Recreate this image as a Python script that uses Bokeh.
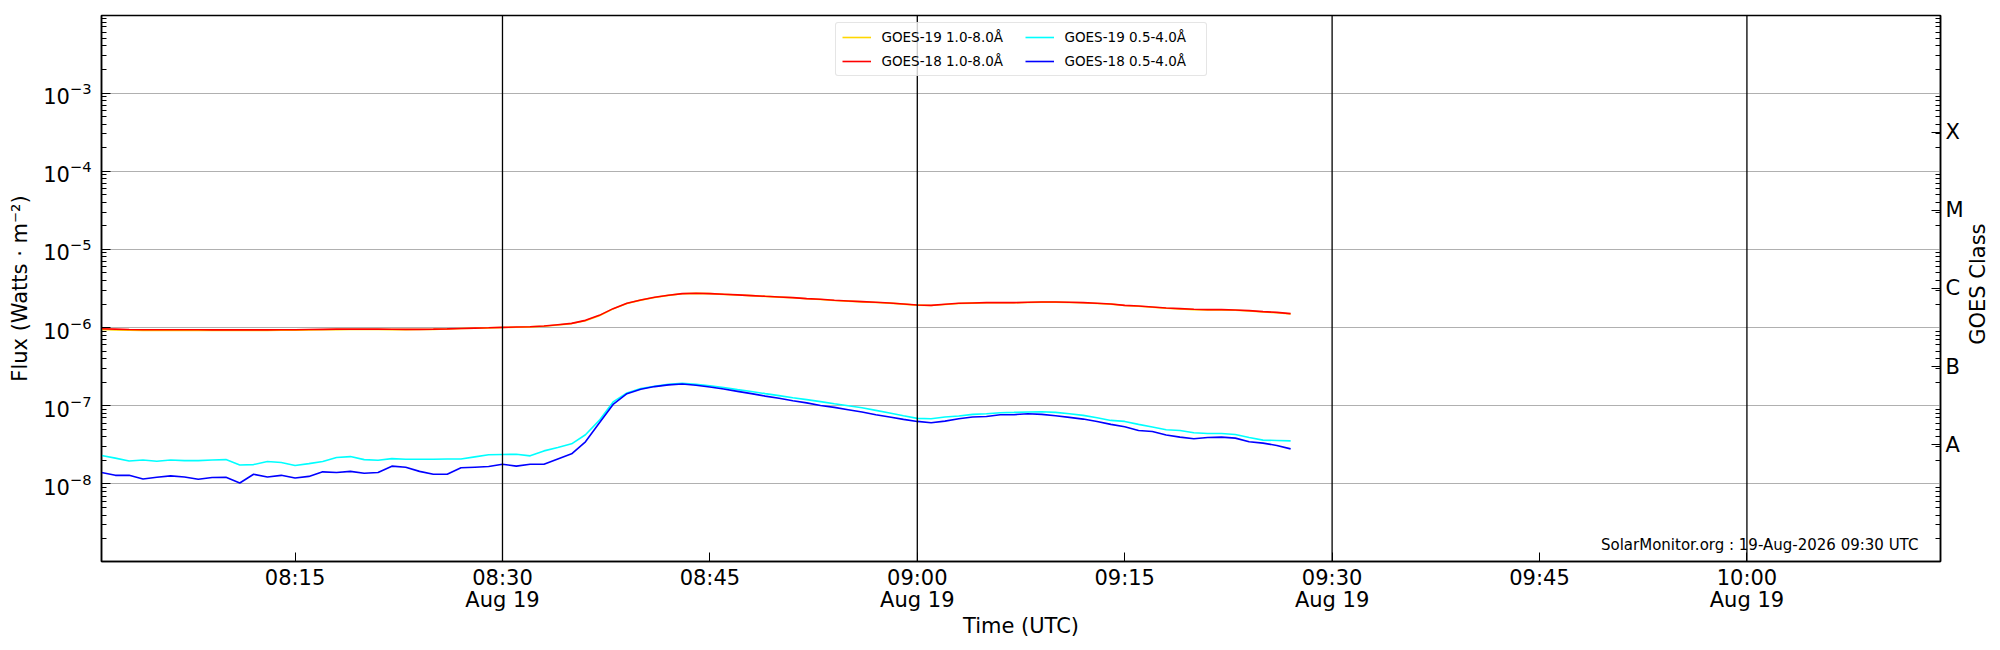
import math
import pandas as pd
from bokeh.plotting import figure
from bokeh.models import (ColumnDataSource, Range1d, LogAxis, FixedTicker, LogTickFormatter,
                          CustomJSTickFormatter, Span, Label, Legend, LegendItem)
from bokeh.embed import file_html
from bokeh.resources import INLINE

# GOES XRS 1-minute samples, 19 Aug 2026, 08:01 - 09:27 UTC
times = pd.date_range("2026-08-19 08:01", "2026-08-19 09:27", freq="1min")

goes19_long = [
    9.45e-7, 9.35e-7, 9.25e-7, 9.22e-7, 9.22e-7, 9.22e-7, 9.22e-7, 9.20e-7, 9.20e-7, 9.20e-7,
    9.20e-7, 9.20e-7, 9.22e-7, 9.25e-7, 9.28e-7, 9.32e-7, 9.38e-7, 9.42e-7, 9.45e-7, 9.45e-7,
    9.45e-7, 9.42e-7, 9.42e-7, 9.45e-7, 9.50e-7, 9.60e-7, 9.72e-7, 9.82e-7, 9.92e-7, 1.003e-6,
    1.012e-6, 1.022e-6, 1.040e-6, 1.080e-6, 1.125e-6, 1.225e-6, 1.420e-6, 1.735e-6, 2.030e-6, 2.245e-6,
    2.430e-6, 2.580e-6, 2.710e-6, 2.740e-6, 2.715e-6, 2.660e-6, 2.610e-6, 2.560e-6, 2.505e-6, 2.455e-6,
    2.405e-6, 2.335e-6, 2.290e-6, 2.225e-6, 2.180e-6, 2.135e-6, 2.095e-6, 2.055e-6, 1.995e-6, 1.935e-6,
    1.915e-6, 1.975e-6, 2.035e-6, 2.055e-6, 2.075e-6, 2.075e-6, 2.075e-6, 2.095e-6, 2.115e-6, 2.115e-6,
    2.095e-6, 2.075e-6, 2.035e-6, 1.995e-6, 1.915e-6, 1.875e-6, 1.820e-6, 1.765e-6, 1.730e-6, 1.695e-6,
    1.680e-6, 1.680e-6, 1.665e-6, 1.630e-6, 1.585e-6, 1.550e-6, 1.490e-6,
]
goes18_long = [
    9.65e-7, 9.55e-7, 9.45e-7, 9.40e-7, 9.40e-7, 9.40e-7, 9.40e-7, 9.38e-7, 9.36e-7, 9.35e-7,
    9.35e-7, 9.35e-7, 9.36e-7, 9.38e-7, 9.40e-7, 9.45e-7, 9.50e-7, 9.55e-7, 9.55e-7, 9.55e-7,
    9.55e-7, 9.52e-7, 9.50e-7, 9.50e-7, 9.55e-7, 9.62e-7, 9.75e-7, 9.85e-7, 9.95e-7, 1.006e-6,
    1.016e-6, 1.026e-6, 1.046e-6, 1.089e-6, 1.132e-6, 1.237e-6, 1.434e-6, 1.747e-6, 2.045e-6, 2.256e-6,
    2.442e-6, 2.590e-6, 2.721e-6, 2.748e-6, 2.721e-6, 2.667e-6, 2.617e-6, 2.566e-6, 2.515e-6, 2.466e-6,
    2.418e-6, 2.348e-6, 2.302e-6, 2.234e-6, 2.191e-6, 2.148e-6, 2.106e-6, 2.065e-6, 2.005e-6, 1.945e-6,
    1.926e-6, 1.984e-6, 2.045e-6, 2.065e-6, 2.085e-6, 2.085e-6, 2.085e-6, 2.106e-6, 2.127e-6, 2.127e-6,
    2.106e-6, 2.085e-6, 2.045e-6, 2.005e-6, 1.926e-6, 1.889e-6, 1.835e-6, 1.781e-6, 1.747e-6, 1.713e-6,
    1.696e-6, 1.696e-6, 1.679e-6, 1.646e-6, 1.598e-6, 1.567e-6, 1.507e-6,
]
goes19_short = [
    2.31e-8, 2.14e-8, 1.97e-8, 2.03e-8, 1.95e-8, 2.03e-8, 1.99e-8, 1.99e-8, 2.03e-8, 2.05e-8,
    1.75e-8, 1.77e-8, 1.94e-8, 1.88e-8, 1.72e-8, 1.82e-8, 1.94e-8, 2.18e-8, 2.24e-8, 2.05e-8,
    2.01e-8, 2.11e-8, 2.07e-8, 2.07e-8, 2.07e-8, 2.09e-8, 2.09e-8, 2.22e-8, 2.36e-8, 2.38e-8,
    2.40e-8, 2.29e-8, 2.65e-8, 2.93e-8, 3.26e-8, 4.26e-8, 6.50e-8, 1.12e-7, 1.46e-7, 1.66e-7,
    1.78e-7, 1.88e-7, 1.94e-7, 1.88e-7, 1.80e-7, 1.71e-7, 1.61e-7, 1.52e-7, 1.43e-7, 1.35e-7,
    1.27e-7, 1.20e-7, 1.13e-7, 1.06e-7, 1.00e-7, 9.46e-8, 8.74e-8, 8.07e-8, 7.46e-8, 6.90e-8,
    6.83e-8, 7.18e-8, 7.39e-8, 7.76e-8, 7.92e-8, 8.15e-8, 8.23e-8, 8.32e-8, 8.40e-8, 8.23e-8,
    7.92e-8, 7.54e-8, 7.03e-8, 6.50e-8, 6.31e-8, 5.78e-8, 5.34e-8, 4.93e-8, 4.84e-8, 4.52e-8,
    4.43e-8, 4.43e-8, 4.30e-8, 3.93e-8, 3.64e-8, 3.60e-8, 3.56e-8,
]
goes18_short = [
    1.40e-8, 1.29e-8, 1.29e-8, 1.16e-8, 1.22e-8, 1.27e-8, 1.23e-8, 1.15e-8, 1.21e-8, 1.22e-8,
    1.03e-8, 1.33e-8, 1.23e-8, 1.29e-8, 1.19e-8, 1.25e-8, 1.43e-8, 1.40e-8, 1.45e-8, 1.37e-8,
    1.40e-8, 1.69e-8, 1.64e-8, 1.45e-8, 1.33e-8, 1.33e-8, 1.61e-8, 1.64e-8, 1.67e-8, 1.79e-8,
    1.69e-8, 1.79e-8, 1.79e-8, 2.09e-8, 2.43e-8, 3.46e-8, 6.01e-8, 1.04e-7, 1.43e-7, 1.63e-7,
    1.76e-7, 1.85e-7, 1.90e-7, 1.83e-7, 1.74e-7, 1.64e-7, 1.53e-7, 1.43e-7, 1.33e-7, 1.25e-7,
    1.16e-7, 1.09e-7, 1.01e-7, 9.55e-8, 8.91e-8, 8.32e-8, 7.69e-8, 7.18e-8, 6.70e-8, 6.31e-8,
    6.07e-8, 6.37e-8, 6.83e-8, 7.18e-8, 7.31e-8, 7.69e-8, 7.69e-8, 7.92e-8, 7.76e-8, 7.46e-8,
    7.10e-8, 6.76e-8, 6.31e-8, 5.78e-8, 5.39e-8, 4.84e-8, 4.70e-8, 4.22e-8, 3.97e-8, 3.78e-8,
    3.93e-8, 3.97e-8, 3.86e-8, 3.46e-8, 3.33e-8, 3.11e-8, 2.81e-8,
]

series_labels = ["GOES-19 1.0-8.0Å", "GOES-18 1.0-8.0Å", "GOES-19 0.5-4.0Å", "GOES-18 0.5-4.0Å"]
series_colors = ["gold", "red", "cyan", "blue"]

day = "2026-08-19"
tick_times = ["08:15", "08:30", "08:45", "09:00", "09:15", "09:30", "09:45", "10:00"]
tick_labels = ["08:15", "08:30\nAug 19", "08:45", "09:00\nAug 19",
               "09:15", "09:30\nAug 19", "09:45", "10:00\nAug 19"]
marker_times = ["08:30", "09:00", "09:30", "10:00"]
decades = [-8, -7, -6, -5, -4, -3]
goes_classes = ["A", "B", "C", "M", "X"]
class_exponents = [-7.5, -6.5, -5.5, -4.5, -3.5]
class_title = "GOES Class"
class_title_foot = 10.0 ** -6.22   # lower end of the upright "GOES Class" title
stamp_text = "SolarMonitor.org : 19-Aug-2026 09:30 UTC"

FONT = "DejaVu Sans"


def ms(hhmm):
    return pd.Timestamp(f"{day} {hhmm}").value / 1e6


source = ColumnDataSource(data=dict(t=times, g19l=goes19_long, g18l=goes18_long,
                                    g19s=goes19_short, g18s=goes18_short))

p = figure(frame_width=1839, frame_height=546, x_axis_type="datetime", y_axis_type="log",
           x_range=Range1d(ms("08:01"), ms("10:14")), y_range=Range1d(1.02e-9, 9.8e-3),
           output_backend="svg", toolbar_location=None,
           min_border_left=101, min_border_right=52, min_border_top=15, min_border_bottom=81)
p.outline_line_color = "black"
p.outline_line_width = 1.5
p.outline_line_alpha = 1
p.xgrid.visible = False
p.ygrid.grid_line_color = "#b0b0b0"
p.ygrid.grid_line_width = 1.1

minor = [k * 10.0 ** e for e in range(-9, -1) for k in range(2, 10)]

ya = p.yaxis[0]
ya.ticker = FixedTicker(ticks=[10.0 ** e for e in decades], minor_ticks=minor)
ya.formatter = LogTickFormatter()
ya.axis_label = "Flux (Watts · m⁻²)"

xa = p.xaxis[0]
tick_ms = [ms(t) for t in tick_times]
xa.ticker = FixedTicker(ticks=tick_ms)
xa.formatter = CustomJSTickFormatter(args=dict(tick_vals=tick_ms, tick_text=tick_labels), code="""
const i = tick_vals.indexOf(tick);
return i >= 0 ? tick_text[i] : "";
""")
xa.axis_label = "Time (UTC)"

ra = LogAxis(ticker=FixedTicker(ticks=[10.0 ** e for e in class_exponents], minor_ticks=minor),
             formatter=CustomJSTickFormatter(args=dict(class_names=goes_classes), code="""
return class_names[Math.round(Math.log10(tick) + 7.5)];
"""))
p.add_layout(ra, "right")

for ax in [ya, xa, ra]:
    ax.axis_line_color = "black"
    ax.axis_line_width = 1.5
    ax.major_tick_in = 9
    ax.major_tick_out = 0
    ax.minor_tick_in = 5
    ax.minor_tick_out = 0
    ax.major_tick_line_color = "black"
    ax.minor_tick_line_color = "black"
    ax.major_label_text_font = FONT
    ax.major_label_text_font_size = "21px"
    ax.major_label_text_color = "black"
    ax.axis_label_text_font = FONT
    ax.axis_label_text_font_size = "21px"
    ax.axis_label_text_font_style = "normal"
    ax.axis_label_text_color = "black"
ya.major_label_standoff = 10
ya.axis_label_standoff = 8
xa.major_label_standoff = 4
xa.major_label_text_line_height = 0.95
xa.axis_label_standoff = -1
ra.major_label_standoff = 5

# "GOES Class" title: a bare outer axis carrying one label, turned to read upward
title_axis = LogAxis(ticker=FixedTicker(ticks=[class_title_foot]),
                     formatter=CustomJSTickFormatter(args=dict(title=class_title), code="return title;"),
                     axis_line_color=None, major_tick_line_color=None, minor_tick_line_color=None,
                     major_tick_in=0, major_tick_out=0, minor_tick_in=0, minor_tick_out=0,
                     major_label_standoff=12, major_label_orientation=math.pi / 2,
                     major_label_text_font=FONT, major_label_text_font_size="21px",
                     major_label_text_color="black")
p.add_layout(title_axis, "right")

for t in marker_times:
    p.add_layout(Span(location=ms(t), dimension="height", line_color="black", line_width=1.3))

renderers = []
for col, color in zip(["g19l", "g18l", "g19s", "g18s"], series_colors):
    renderers.append(p.line("t", col, source=source, line_color=color, line_width=1.6))

legend = Legend(items=[LegendItem(label=lab, renderers=[r]) for lab, r in zip(series_labels, renderers)],
                location="top_center", orientation="vertical", ncols=2,
                label_text_font=FONT, label_text_font_size="13.5px", label_text_color="black",
                glyph_width=29, glyph_height=16, label_height=16, label_width=135,
                label_standoff=11, spacing=8, padding=6, margin=7,
                border_line_color="#cccccc", border_line_width=1, border_radius=3,
                background_fill_alpha=0.8)
p.add_layout(legend, "center")

p.add_layout(Label(x=ms("10:12:24"), y=1.66e-9, text=stamp_text, text_align="right",
                   text_baseline="middle", text_font=FONT, text_font_size="15px",
                   text_color="black"))

open("out.html", "w").write(file_html(p, INLINE))
